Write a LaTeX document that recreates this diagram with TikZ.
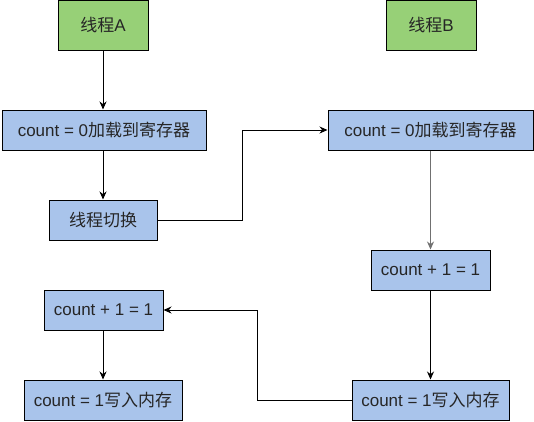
\documentclass[tikz,border=0pt]{standalone}
\usepackage{fontspec}
\setmainfont{Liberation Sans}
\newfontfamily\cjk{Noto Sans CJK SC}
\usetikzlibrary{arrows.meta}
\definecolor{boxblue}{HTML}{A9C4EB}
\definecolor{boxgreen}{HTML}{97D077}
\definecolor{txt}{HTML}{262626}
\definecolor{linegray}{HTML}{707070}
\tikzset{
  base/.style={draw=black, line width=1pt, inner sep=0pt, minimum height=40pt, text=txt, font=\fontsize{17}{19}\selectfont, anchor=center},
  bluebox/.style={base, fill=boxblue},
  greenbox/.style={base, fill=boxgreen, minimum height=50pt, minimum width=90pt},
  conn/.style={draw=black, line width=1pt, -{Stealth[length=8pt,width=7pt]}},
}
\begin{document}
\begin{tikzpicture}[x=1pt,y=-1pt]
\useasboundingbox (0,0) rectangle (534,421);
\node[greenbox] (A) at (103,25) {{\cjk 线程}A};
\node[greenbox] (B) at (431,25) {{\cjk 线程}B};
\node[bluebox, minimum width=204pt] (L1) at (104,130) {count = 0{\cjk 加载到寄存器}};
\node[bluebox, minimum width=205pt] (R1) at (430.5,130) {count = 0{\cjk 加载到寄存器}};
\node[bluebox, minimum width=108pt] (S) at (103,220) {\cjk 线程切换};
\node[bluebox, minimum width=119pt] (R2) at (430.5,270) {count + 1 = 1};
\node[bluebox, minimum width=119pt] (L2) at (103.5,310) {count + 1 = 1};
\node[bluebox, minimum width=158pt] (L3) at (103,400) {count = 1{\cjk 写入内存}};
\node[bluebox, minimum width=157pt] (R3) at (430.5,400) {count = 1{\cjk 写入内存}};
\coordinate (c1) at (242,220);
\coordinate (c2) at (242,130);
\coordinate (c3) at (257,400);
\coordinate (c4) at (257,310);
\draw[conn] (A.south) -- (A.south |- L1.north);
\draw[conn] (S.north |- L1.south) -- (S.north);
\draw[conn] (S.east) -- (c1) -- (c2) -- (R1.west);
\draw[conn, draw=linegray] (R1.south) -- (R2.north);
\draw[conn] (R2.south) -- (R3.north);
\draw[conn] (R3.west) -- (c3) -- (c4) -- (L2.east);
\draw[conn] (L3.north |- L2.south) -- (L3.north);
\end{tikzpicture}
\end{document}
